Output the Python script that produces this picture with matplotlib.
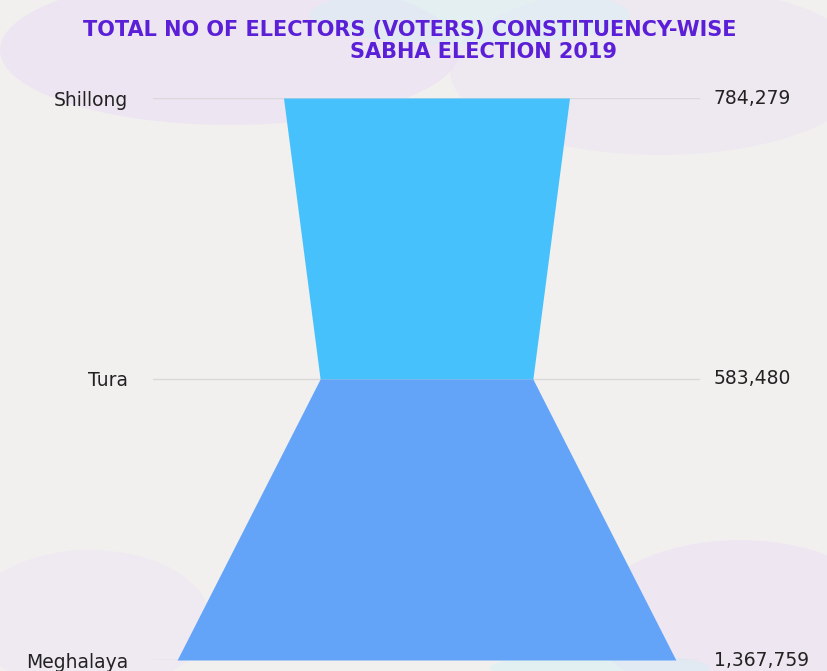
import numpy as np
import matplotlib.pyplot as plt
from matplotlib.patches import Ellipse

stages = ['Shillong', 'Tura', 'Meghalaya']
values = [784279, 583480, 1367759]
seg_colors = ['#47c1fb', '#64a4f8']

fig = plt.figure(figsize=(8.27, 6.71), dpi=100)
fig.patch.set_facecolor('#f1f0ef')

# faint purple / cyan washes in the background
bg = fig.add_axes([0, 0, 1, 1], zorder=-1)
bg.set_xlim(0, 827)
bg.set_ylim(671, 0)
bg.axis('off')
for (cx, cy, w, h, c) in [(230, 50, 460, 150, '#ead9f4'), (660, 70, 420, 170, '#ecdff4'),
                          (470, 15, 320, 60, '#d6eff6'), (740, 620, 300, 160, '#ecdcf4'),
                          (90, 620, 240, 140, '#eee1f4'), (600, 668, 220, 30, '#d3f0f6')]:
    bg.add_patch(Ellipse((cx, cy), w, h, color=c, alpha=0.45, lw=0))

ax = fig.add_axes([153 / 827, 11 / 671, 547 / 827, 562 / 671])
ax.set_facecolor('none')

y = np.arange(len(stages))
half = np.array(values) / 2

for i in range(len(stages) - 1):
    yy = [y[i], y[i + 1]]
    ax.fill_betweenx(yy, [-half[i], -half[i + 1]], [half[i], half[i + 1]],
                     color=seg_colors[i], lw=0, zorder=2)

for yi in y:
    ax.axhline(yi, color='#d9d9d9', lw=1, zorder=1)

ax.set_xlim(-750000, 750000)
ax.set_ylim(y[-1], y[0])
ax.set_xticks([])
ax.set_yticks(y)
ax.set_yticklabels(stages, fontsize=13.5, color='#222222')
ax.tick_params(axis='y', length=0, pad=18)
for s in ax.spines.values():
    s.set_visible(False)

for yi, v in zip(y, values):
    ax.text(1.025, yi, f'{v:,}', transform=ax.get_yaxis_transform(),
            ha='left', va='center', fontsize=13.5, color='#222222')

fig.text(410 / 827, 1 - 30 / 671, 'TOTAL NO OF ELECTORS (VOTERS) CONSTITUENCY-WISE',
         ha='center', va='center', fontsize=15, fontweight='bold', color='#5a1fd6')
fig.text(484 / 827, 1 - 52 / 671, 'SABHA ELECTION 2019',
         ha='center', va='center', fontsize=15, fontweight='bold', color='#5a1fd6')

fig.savefig('out.png', dpi=100)
